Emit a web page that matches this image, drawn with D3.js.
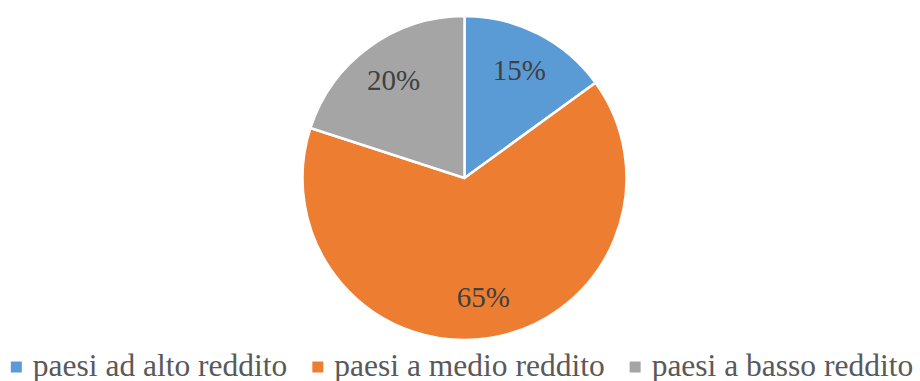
<html>
<head>
<meta charset="utf-8">
<script src="https://cdn.jsdelivr.net/npm/d3@7"></script>
</head>
<body style="margin:0">
<svg id="chart" width="920" height="381"></svg>
<script>
// Income groups and their shares
const categories = ["paesi ad alto reddito", "paesi a medio reddito", "paesi a basso reddito"];
const values = [15, 65, 20];
const labels = ["15%", "65%", "20%"];
const colors = ["#5B9BD5", "#ED7D31", "#A5A5A5"];

const cx = 464.5, cy = 178, radius = 162;
const serif = "Liberation Serif";

const svg = d3.select("#chart");

const pie = d3.pie().sort(null).value(d => d.value);
const arcs = pie(categories.map((c, i) => ({ name: c, value: values[i], label: labels[i], color: colors[i] })));

const arc = d3.arc().innerRadius(0).outerRadius(radius);
const labelR = radius * 0.745;
const labelArc = d3.arc().innerRadius(labelR).outerRadius(labelR);

const g = svg.append("g").attr("transform", `translate(${cx},${cy})`);

g.selectAll("path.slice")
  .data(arcs)
  .join("path")
  .attr("class", "slice")
  .attr("d", arc)
  .attr("fill", d => d.data.color)
  .attr("stroke", "#fff")
  .attr("stroke-width", 2.5)
  .attr("stroke-linejoin", "round");

g.selectAll("text.pct")
  .data(arcs)
  .join("text")
  .attr("class", "pct")
  .attr("x", d => labelArc.centroid(d)[0])
  .attr("y", d => labelArc.centroid(d)[1] + 10)
  .attr("text-anchor", "middle")
  .style("font-family", serif)
  .attr("font-size", 29)
  .attr("fill", "#404040")
  .text(d => d.data.label);

// Legend: swatch + name, laid out horizontally and centred.
// Widths come from a canvas measurement in the same font.
const swatch = 11, swGap = 11, itemGap = 25, legendSize = 31.5;
const ctx = document.createElement("canvas").getContext("2d");
ctx.font = `${legendSize}px "${serif}"`;
const widths = categories.map(c => swatch + swGap + ctx.measureText(c).width);
const total = d3.sum(widths) + itemGap * (widths.length - 1);
const starts = [];
widths.reduce((x, w) => { starts.push(x); return x + w + itemGap; }, 462 - total / 2);
const legendY = 367;

const legend = svg.append("g");
legend.selectAll("rect")
  .data(arcs)
  .join("rect")
  .attr("x", (d, i) => starts[i])
  .attr("y", legendY - swatch / 2)
  .attr("width", swatch)
  .attr("height", swatch)
  .attr("fill", d => d.data.color);

legend.selectAll("text")
  .data(arcs)
  .join("text")
  .attr("x", (d, i) => starts[i] + swatch + swGap)
  .attr("y", legendY + 9)
  .style("font-family", serif)
  .attr("font-size", legendSize)
  .attr("fill", "#595959")
  .text(d => d.data.name);
</script>
</body>
</html>
